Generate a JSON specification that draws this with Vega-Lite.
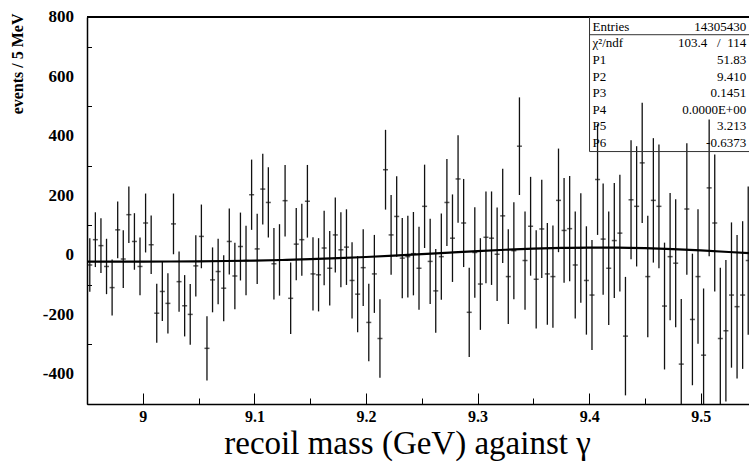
{
  "$schema": "https://vega.github.io/schema/vega-lite/v6.json",
  "width": 662,
  "height": 387,
  "autosize": {"type": "none"},
  "padding": {"left": 87, "top": 17, "right": 0, "bottom": 64},
  "background": "white",
  "config": {"view": {"stroke": null}, "font": "Liberation Serif", "axis": {"titleFont": "Liberation Serif", "labelFont": "Liberation Serif"}},
  "datasets": {
    "hist": [
      {"m": 8.9525, "n": -33, "e": 90}, {"m": 8.9575, "n": 52, "e": 92}, {"m": 8.9625, "n": 32, "e": 92}, {"m": 8.9675, "n": -38, "e": 93},
      {"m": 8.9725, "n": -109, "e": 94}, {"m": 8.9775, "n": 85, "e": 95}, {"m": 8.9825, "n": -13, "e": 97}, {"m": 8.9875, "n": 136, "e": 95},
      {"m": 8.9925, "n": 46, "e": 95}, {"m": 8.9975, "n": -38, "e": 97}, {"m": 9.0025, "n": 108, "e": 99}, {"m": 9.0075, "n": 35, "e": 98},
      {"m": 9.0125, "n": -195, "e": 99}, {"m": 9.0175, "n": -122, "e": 99}, {"m": 9.0225, "n": -162, "e": 101}, {"m": 9.0275, "n": 105, "e": 102},
      {"m": 9.0325, "n": -89, "e": 101}, {"m": 9.0375, "n": -170, "e": 103}, {"m": 9.0425, "n": -199, "e": 102}, {"m": 9.0475, "n": -36, "e": 103},
      {"m": 9.0525, "n": 63, "e": 107}, {"m": 9.0575, "n": -313, "e": 108}, {"m": 9.0625, "n": -83, "e": 109}, {"m": 9.0675, "n": -55, "e": 110},
      {"m": 9.0725, "n": -111, "e": 111}, {"m": 9.0775, "n": 46, "e": 111}, {"m": 9.0825, "n": -70, "e": 112}, {"m": 9.0875, "n": 29, "e": 114},
      {"m": 9.0925, "n": -18, "e": 117}, {"m": 9.0975, "n": 203, "e": 118}, {"m": 9.1025, "n": 21, "e": 118}, {"m": 9.1075, "n": 222, "e": 119},
      {"m": 9.1125, "n": 177, "e": 118}, {"m": 9.1175, "n": -29, "e": 120}, {"m": 9.1225, "n": -16, "e": 120}, {"m": 9.1275, "n": 183, "e": 120},
      {"m": 9.1325, "n": -145, "e": 120}, {"m": 9.1375, "n": 37, "e": 121}, {"m": 9.1425, "n": 52, "e": 121}, {"m": 9.1475, "n": 181, "e": 122},
      {"m": 9.1525, "n": -63, "e": 123}, {"m": 9.1575, "n": -66, "e": 123}, {"m": 9.1625, "n": 24, "e": 125}, {"m": 9.1675, "n": -44, "e": 125},
      {"m": 9.1725, "n": 68, "e": 126}, {"m": 9.1775, "n": 18, "e": 126}, {"m": 9.1825, "n": 27, "e": 127}, {"m": 9.1875, "n": -85, "e": 128},
      {"m": 9.1925, "n": -131, "e": 128}, {"m": 9.1975, "n": -42, "e": 129}, {"m": 9.2025, "n": -226, "e": 130}, {"m": 9.2075, "n": -63, "e": 131},
      {"m": 9.2125, "n": -280, "e": 132}, {"m": 9.2175, "n": 287, "e": 134}, {"m": 9.2225, "n": 68, "e": 134}, {"m": 9.2275, "n": 130, "e": 135},
      {"m": 9.2325, "n": -10, "e": 135}, {"m": 9.2375, "n": -5, "e": 137}, {"m": 9.2425, "n": 5, "e": 140}, {"m": 9.2475, "n": -44, "e": 139},
      {"m": 9.2525, "n": 164, "e": 140}, {"m": 9.2575, "n": -21, "e": 143}, {"m": 9.2625, "n": -120, "e": 141}, {"m": 9.2675, "n": -5, "e": 145},
      {"m": 9.2725, "n": 177, "e": 146}, {"m": 9.2775, "n": 57, "e": 147}, {"m": 9.2825, "n": 256, "e": 147}, {"m": 9.2875, "n": 108, "e": 148},
      {"m": 9.2925, "n": -192, "e": 150}, {"m": 9.2975, "n": 9, "e": 152}, {"m": 9.3025, "n": -97, "e": 154}, {"m": 9.3075, "n": 60, "e": 154},
      {"m": 9.3125, "n": 57, "e": 157}, {"m": 9.3175, "n": 3, "e": 157}, {"m": 9.3225, "n": 132, "e": 158}, {"m": 9.3275, "n": -72, "e": 159},
      {"m": 9.3325, "n": 15, "e": 163}, {"m": 9.3375, "n": 366, "e": 164}, {"m": 9.3425, "n": -18, "e": 165}, {"m": 9.3475, "n": 97, "e": 166},
      {"m": 9.3525, "n": -81, "e": 165}, {"m": 9.3575, "n": 88, "e": 165}, {"m": 9.3625, "n": -63, "e": 171}, {"m": 9.3675, "n": -72, "e": 172},
      {"m": 9.3725, "n": 184, "e": 174}, {"m": 9.3775, "n": 83, "e": 176}, {"m": 9.3825, "n": 89, "e": 177}, {"m": 9.3875, "n": -33, "e": 180},
      {"m": 9.3925, "n": 24, "e": 184}, {"m": 9.3975, "n": -85, "e": 182}, {"m": 9.4025, "n": -134, "e": 185}, {"m": 9.4075, "n": 254, "e": 186},
      {"m": 9.4125, "n": 54, "e": 187}, {"m": 9.4175, "n": -44, "e": 191}, {"m": 9.4225, "n": 49, "e": 193}, {"m": 9.4275, "n": 74, "e": 196},
      {"m": 9.4325, "n": -272, "e": 199}, {"m": 9.4375, "n": 186, "e": 200}, {"m": 9.4425, "n": 164, "e": 202}, {"m": 9.4475, "n": 310, "e": 202},
      {"m": 9.4525, "n": -72, "e": 204}, {"m": 9.4575, "n": 184, "e": 209}, {"m": 9.4625, "n": 164, "e": 208}, {"m": 9.4675, "n": -171, "e": 213},
      {"m": 9.4725, "n": -5, "e": 214}, {"m": 9.4775, "n": -27, "e": 215}, {"m": 9.4825, "n": -366, "e": 219}, {"m": 9.4875, "n": 155, "e": 221},
      {"m": 9.4925, "n": -216, "e": 221}, {"m": 9.4975, "n": -72, "e": 226}, {"m": 9.5025, "n": -336, "e": 224}, {"m": 9.5075, "n": 226, "e": 230},
      {"m": 9.5125, "n": 108, "e": 230}, {"m": 9.5175, "n": -280, "e": 238}, {"m": 9.5225, "n": -254, "e": 238}, {"m": 9.5275, "n": -134, "e": 244},
      {"m": 9.5325, "n": -173, "e": 241}, {"m": 9.5375, "n": -134, "e": 248}, {"m": 9.5425, "n": -18, "e": 249}, {"m": 9.5475, "n": -60, "e": 250}
    ],
    "fit": [
      {"m": 8.95, "f": -21.95}, {"m": 8.975, "f": -21.92}, {"m": 9.0, "f": -21.75}, {"m": 9.025, "f": -21.38},
      {"m": 9.05, "f": -20.73}, {"m": 9.075, "f": -19.72}, {"m": 9.1, "f": -18.25}, {"m": 9.125, "f": -16.2},
      {"m": 9.15, "f": -13.55}, {"m": 9.175, "f": -10.2}, {"m": 9.2, "f": -6.19}, {"m": 9.225, "f": -1.6},
      {"m": 9.25, "f": 3.41}, {"m": 9.275, "f": 8.6}, {"m": 9.3, "f": 13.64}, {"m": 9.325, "f": 18.2},
      {"m": 9.35, "f": 21.91}, {"m": 9.375, "f": 24.45}, {"m": 9.4, "f": 25.6}, {"m": 9.425, "f": 25.22},
      {"m": 9.45, "f": 23.35}, {"m": 9.475, "f": 20.11}, {"m": 9.5, "f": 15.77}, {"m": 9.525, "f": 10.65},
      {"m": 9.55, "f": 5.1}
    ],
    "ylabels": [{"v": -400}, {"v": -200}, {"v": 0}, {"v": 200}, {"v": 400}, {"v": 600}, {"v": 800}],
    "stats": [
      {"side": "label", "lines": ["Entries", "χ²/ndf", "P1", "P2", "P3", "P4", "P5", "P6"]},
      {"side": "value", "lines": ["14305430", "103.4\u00a0\u00a0\u00a0/\u00a0\u00a0114", "51.83", "9.410", "0.1451", "0.0000E+00", "3.213", "-0.6373"]}
    ]
  },
  "layer": [
    {
      "data": {"name": "hist"},
      "mark": {"type": "tick", "orient": "horizontal", "size": 5, "thickness": 1.5, "color": "#111", "clip": true},
      "encoding": {
        "x": {
          "field": "m", "type": "quantitative",
          "scale": {"domain": [8.95, 9.5432], "nice": false, "zero": false},
          "title": "recoil mass (GeV) against γ",
          "axis": {
            "values": [8.95, 8.975, 9, 9.025, 9.05, 9.075, 9.1, 9.125, 9.15, 9.175, 9.2, 9.225, 9.25, 9.275, 9.3, 9.325, 9.35, 9.375, 9.4, 9.425, 9.45, 9.475, 9.5, 9.525],
            "labelExpr": "abs(datum.value*10 - round(datum.value*10)) < 0.001 ? format(datum.value, '.1~f') : ''",
            "tickSize": {"condition": {"test": "abs(datum.value*10 - round(datum.value*10)) < 0.001", "value": -11}, "value": -6},
            "tickColor": "#000", "tickWidth": 1,
            "domainColor": "#000", "domainWidth": 1.5,
            "grid": false,
            "labelFont": "Liberation Serif", "labelFontWeight": "bold", "labelFontSize": 16, "labelColor": "#000",
            "labelPadding": 15, "labelFlush": false, "labelBound": false, "labelOverlap": false,
            "titleFont": "Liberation Serif", "titleFontWeight": "normal", "titleFontSize": 33, "titleColor": "#000",
            "titleX": 320, "titleY": 49, "titleBaseline": "alphabetic", "titleAlign": "center"
          }
        },
        "y": {
          "field": "n", "type": "quantitative",
          "scale": {"domain": [-500, 800], "nice": false, "zero": false},
          "title": "events / 5 MeV",
          "axis": {
            "values": [-500, -450, -400, -350, -300, -250, -200, -150, -100, -50, 0, 50, 100, 150, 200, 250, 300, 350, 400, 450, 500, 550, 600, 650, 700, 750, 800],
            "labels": false,
            "tickSize": {"condition": {"test": "abs(datum.value - 200*round(datum.value/200)) < 0.001", "value": -9}, "value": -4.5},
            "tickColor": "#000", "tickWidth": 1,
            "domainColor": "#000", "domainWidth": 1.5,
            "grid": false,
            "titleFont": "Liberation Serif", "titleFontWeight": "bold", "titleFontSize": 16, "titleColor": "#000",
            "titleAngle": -90, "titleX": -70, "titleY": -4, "titleAlign": "right", "titleBaseline": "middle"
          }
        }
      }
    },
    {
      "data": {"name": "hist"},
      "mark": {"type": "errorbar", "color": "#111", "rule": {"clip": true, "strokeWidth": 1.3}},
      "encoding": {
        "x": {"field": "m", "type": "quantitative", "title": "recoil mass (GeV) against γ"},
        "y": {"field": "n", "type": "quantitative", "title": "events / 5 MeV"},
        "yError": {"field": "e"}
      }
    },
    {
      "data": {"name": "fit"},
      "mark": {"type": "line", "interpolate": "monotone", "color": "#000", "strokeWidth": 2.2, "clip": true},
      "encoding": {
        "x": {"field": "m", "type": "quantitative", "title": "recoil mass (GeV) against γ"},
        "y": {"field": "f", "type": "quantitative", "title": "events / 5 MeV"}
      }
    },
    {
      "data": {"name": "ylabels"},
      "mark": {"type": "text", "align": "right", "baseline": "middle", "dx": -13, "font": "Liberation Serif", "fontWeight": "bold", "fontSize": 17, "color": "#000"},
      "encoding": {
        "x": {"datum": 8.95, "type": "quantitative"},
        "y": {"field": "v", "type": "quantitative", "title": "events / 5 MeV"},
        "text": {"field": "v", "type": "nominal"}
      }
    },
    {
      "data": {"values": [{}]},
      "mark": {"type": "rule", "color": "#000", "strokeWidth": 2},
      "encoding": {"y": {"datum": 800, "type": "quantitative"}}
    },
    {
      "data": {"values": [{}]},
      "mark": {"type": "rule", "color": "#333", "strokeWidth": 1},
      "encoding": {
        "x": {"datum": 9.4003, "type": "quantitative"},
        "y": {"datum": 348, "type": "quantitative"},
        "y2": {"datum": 800}
      }
    },
    {
      "data": {"values": [{}]},
      "mark": {"type": "rule", "color": "#333", "strokeWidth": 1},
      "encoding": {
        "x": {"datum": 9.4003, "type": "quantitative"},
        "x2": {"datum": 9.5432},
        "y": {"datum": 348, "type": "quantitative"}
      }
    },
    {
      "data": {"values": [{}]},
      "mark": {"type": "rule", "color": "#333", "strokeWidth": 1},
      "encoding": {
        "x": {"datum": 9.4003, "type": "quantitative"},
        "x2": {"datum": 9.5432},
        "y": {"datum": 740.5, "type": "quantitative"}
      }
    },
    {
      "data": {"name": "stats"},
      "transform": [{"filter": "datum.side === 'label'"}],
      "mark": {"type": "text", "align": "left", "baseline": "middle", "font": "Liberation Serif", "fontSize": 13, "lineHeight": 16.57, "color": "#000"},
      "encoding": {
        "x": {"datum": 9.403, "type": "quantitative"},
        "y": {"datum": 767, "type": "quantitative"},
        "text": {"field": "lines"}
      }
    },
    {
      "data": {"name": "stats"},
      "transform": [{"filter": "datum.side === 'value'"}],
      "mark": {"type": "text", "align": "right", "baseline": "middle", "font": "Liberation Serif", "fontSize": 13, "lineHeight": 16.57, "color": "#000"},
      "encoding": {
        "x": {"datum": 9.5407, "type": "quantitative"},
        "y": {"datum": 767, "type": "quantitative"},
        "text": {"field": "lines"}
      }
    }
  ]
}
